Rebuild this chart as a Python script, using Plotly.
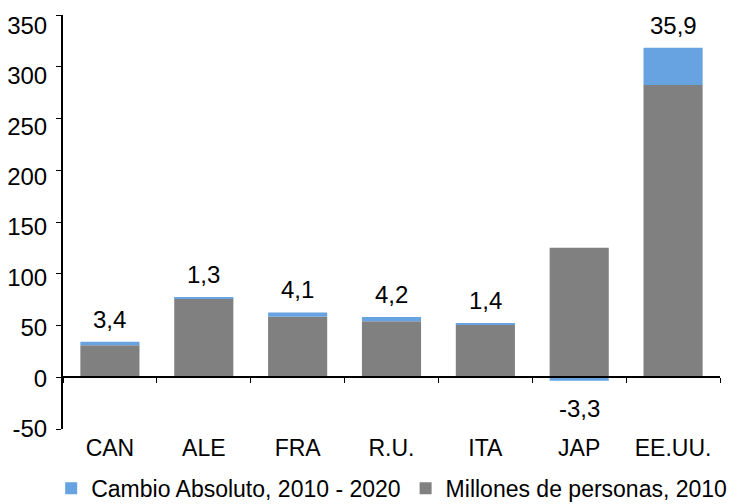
import plotly.graph_objects as go

categories = ["CAN", "ALE", "FRA", "R.U.", "ITA", "JAP", "EE.UU."]
poblacion_2010 = [31.0, 76.0, 58.5, 54.0, 51.0, 125.2, 282.4]
cambio_abs = [3.4, 1.3, 4.1, 4.2, 1.4, -3.3, 35.9]
y_ticks = [-50, 0, 50, 100, 150, 200, 250, 300, 350]
y_ticktext = [str(v) for v in y_ticks]

BLUE = "#66A3E0"
GRAY = "#808080"
FONT = "Liberation Sans, Arial, sans-serif"

fig = go.Figure()
fig.add_trace(go.Bar(
    x=categories, y=poblacion_2010, name="Millones de personas, 2010",
    marker=dict(color=GRAY, line=dict(width=0)), legendrank=2,
))
fig.add_trace(go.Bar(
    x=categories, y=cambio_abs, name="Cambio Absoluto, 2010 - 2020",
    marker=dict(color=BLUE, line=dict(width=0)), legendrank=1,
))
# helper trace for the zero-line category axis
fig.add_trace(go.Bar(
    x=categories, y=[0] * len(categories), xaxis="x2", showlegend=False,
    hoverinfo="skip", marker=dict(color="rgba(0,0,0,0)"),
))
# helper trace for the label-only y axis
fig.add_trace(go.Scatter(
    x=categories, y=poblacion_2010, yaxis="y2", mode="markers",
    marker=dict(opacity=0), showlegend=False, hoverinfo="skip",
))

for cat, base, ch in zip(categories, poblacion_2010, cambio_abs):
    txt = f"{ch:.1f}".replace(".", ",")
    if ch >= 0:
        fig.add_annotation(x=cat, y=base + ch, text=txt, showarrow=False,
                           yanchor="bottom", yshift=7,
                           font=dict(size=24, color="black", family=FONT))
    else:
        fig.add_annotation(x=cat, y=ch, text=txt, showarrow=False,
                           yanchor="top", yshift=-12,
                           font=dict(size=24, color="black", family=FONT))

fig.update_layout(
    width=746, height=496,
    margin=dict(l=55, r=34, t=7, b=75, autoexpand=False),
    barmode="relative", bargap=0.37,
    plot_bgcolor="white", paper_bgcolor="white",
    font=dict(family=FONT, size=23, color="black"),
    showlegend=True,
    legend=dict(orientation="h", x=-0.018, xanchor="left",
                y=-0.143, yanchor="middle",
                font=dict(size=23), itemwidth=30, tracegroupgap=0,
                traceorder="normal", bgcolor="rgba(0,0,0,0)"),
    xaxis=dict(showline=False, ticks="", showgrid=False, zeroline=False,
               tickfont=dict(size=23), automargin=False, ticklabelstandoff=3),
    xaxis2=dict(overlaying="x", matches="x", anchor="free", position=0.125,
                showline=True, linecolor="black", linewidth=2,
                ticks="outside", tickson="boundaries", ticklen=5, tickwidth=1,
                tickcolor="black", showticklabels=False, showgrid=False,
                zeroline=False, automargin=False),
    yaxis=dict(range=[-50, 350], tickvals=y_ticks, showticklabels=False,
               showline=True, linecolor="black", linewidth=2, ticks="outside",
               ticklen=5, tickcolor="black", showgrid=False, zeroline=False,
               automargin=False),
    # label-only axis: the reference's labels drift slightly from their ticks
    yaxis2=dict(overlaying="y", anchor="x", side="left", range=[-50.3, 360.4],
                tickvals=y_ticks, ticktext=y_ticktext, showline=False,
                ticks="outside", ticklen=10, tickcolor="rgba(0,0,0,0)",
                showgrid=False, zeroline=False, tickfont=dict(size=24),
                automargin=False),
)

fig.write_html("out.html")
